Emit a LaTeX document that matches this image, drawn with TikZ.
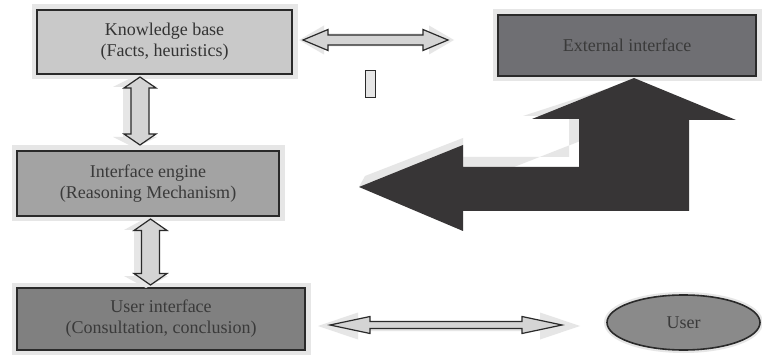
\documentclass[tikz,border=0pt]{standalone}
\usepackage{fontspec}
\setmainfont{Liberation Serif}
\usetikzlibrary{shapes.geometric}
\definecolor{shadegray}{HTML}{E6E6E6}
\definecolor{edgegray}{HTML}{2A2A2A}
\definecolor{kbfill}{HTML}{C9C9C9}
\definecolor{iefill}{HTML}{A3A3A3}
\definecolor{uifill}{HTML}{808080}
\definecolor{extfill}{HTML}{6F6F73}
\definecolor{userfill}{HTML}{8A8A8A}
\definecolor{bigdark}{HTML}{373536}
\definecolor{arrowfill}{HTML}{D4D4D4}
\definecolor{txtgray}{HTML}{3A3A3A}
\newcommand\hdbl[7]{%
 \path[#7] (#1,#3) -- ({#1+#4},{#3-#5}) -- ({#1+#4},{#3-#6}) -- ({#2-#4},{#3-#6}) -- ({#2-#4},{#3-#5}) -- (#2,#3) -- ({#2-#4},{#3+#5}) -- ({#2-#4},{#3+#6}) -- ({#1+#4},{#3+#6}) -- ({#1+#4},{#3+#5}) -- cycle;}
\newcommand\vdbl[7]{%
 \path[#7] (#3,#1) -- ({#3-#5},{#1+#4}) -- ({#3-#6},{#1+#4}) -- ({#3-#6},{#2-#4}) -- ({#3-#5},{#2-#4}) -- (#3,#2) -- ({#3+#5},{#2-#4}) -- ({#3+#6},{#2-#4}) -- ({#3+#6},{#1+#4}) -- ({#3+#5},{#1+#4}) -- cycle;}
\tikzset{
 box/.style={draw=edgegray, line width=1.4pt, text=txtgray, align=center,
   font=\fontsize{18}{21}\selectfont, inner sep=0pt,
   preaction={draw=shadegray, line width=11pt}},
 blockarrow/.style={fill=arrowfill, draw=edgegray, line width=1.2pt, line join=miter},
 blockshadow/.style={fill=shadegray},
}
\begin{document}
\begin{tikzpicture}[x=1pt,y=-1pt]
\useasboundingbox[fill=white] (0,0) rectangle (762,355);
% boxes
\node[box, fill=kbfill, text=black!80, minimum width=255pt, minimum height=64pt] (kb) at (164.5,42) {Knowledge base\\(Facts, heuristics)};
\node[box, fill=iefill, minimum width=262pt, minimum height=65pt] (ie) at (148,183.5) {Interface engine\\(Reasoning Mechanism)};
\node[box, fill=uifill, minimum width=288pt, minimum height=62pt] (ui) at (161,319) {User interface\\(Consultation, conclusion)};
\node[box, fill=extfill, minimum width=258pt, minimum height=61pt] (ext) at (627,45.5) {External interface};
\node[ellipse, draw=edgegray, line width=1.6pt, fill=userfill, text=txtgray,
  font=\fontsize{18}{21}\selectfont, minimum width=153pt, minimum height=55pt, inner sep=0pt,
  preaction={draw=shadegray, line width=6pt}] (user) at (683.5,322.5) {User};
% small rectangle
\node[draw=edgegray, fill=shadegray, line width=1pt, minimum width=10pt, minimum height=27pt, inner sep=0pt] (smallrect) at (370,84.5) {};
% double arrows: shadows
\hdbl{299}{454}{40}{25}{14.5}{6.5}{blockshadow}
\hdbl{318}{580}{326}{40}{13.5}{5}{blockshadow}
\vdbl{76}{148}{135}{11}{22}{12}{blockshadow}
\vdbl{218}{288}{146}{12}{22}{12}{blockshadow}
% double arrows
\hdbl{303}{448}{40}{25}{10.5}{5}{blockarrow}
\hdbl{330}{562}{325}{40}{8.5}{3.5}{blockarrow}
\vdbl{77}{145}{140}{11}{16}{9}{blockarrow}
\vdbl{219}{285}{150.5}{11.5}{16.5}{9}{blockarrow}
% big arrow shadow and arrow
\fill[shadegray] (606,89) -- (523,116) -- (569,116) -- (569,157) -- (463,157) -- (463,138) -- (365,176) -- (359,187) -- (463,187) -- (634,120) -- cycle;
\fill[bigdark] (634,78) -- (736,120) -- (689,120) -- (689,211) -- (463,211) -- (463,231) -- (359,187) -- (463,145) -- (463,167) -- (579,167) -- (579,119) -- (532,119) -- cycle;
\end{tikzpicture}
\end{document}
